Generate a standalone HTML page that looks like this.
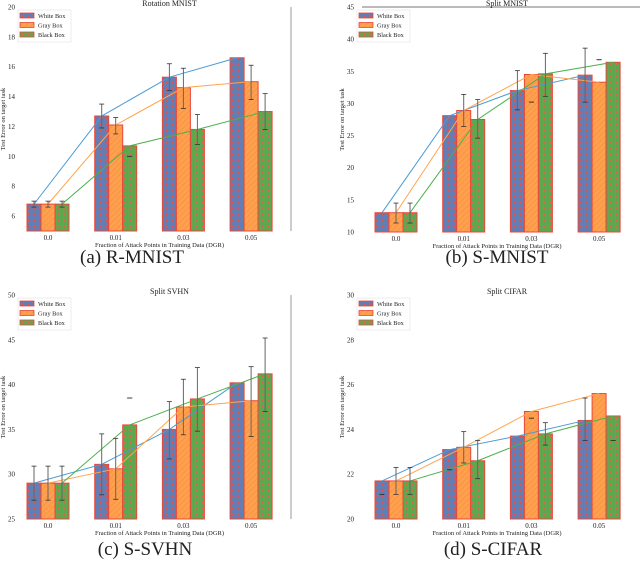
<!DOCTYPE html>
<html><head><meta charset="utf-8">
<style>
html,body{margin:0;padding:0;background:#fff;}
svg text{font-family:"Liberation Serif",serif;fill:#222;}
</style></head>
<body>
<svg id="chart" width="640" height="560" viewBox="0 0 640 560" xmlns="http://www.w3.org/2000/svg">
<defs>
<pattern id="pW" width="3" height="3" patternUnits="userSpaceOnUse"><rect width="3" height="3" fill="#5f7fb8"/><circle cx="1.5" cy="1.5" r="0.7" fill="#d9534f"/></pattern>
<pattern id="pG" width="4" height="4" patternUnits="userSpaceOnUse" patternTransform="rotate(45)"><rect width="4" height="4" fill="#ffa04f"/><line x1="0" y1="0" x2="0" y2="4" stroke="#f08a3a" stroke-width="1"/></pattern>
<pattern id="pB" width="3" height="3" patternUnits="userSpaceOnUse"><rect width="3" height="3" fill="#5ea84e"/><circle cx="1.5" cy="1.5" r="0.6" fill="#d9634f"/></pattern>
</defs>
</svg>
<script>
const categories = ["0.0","0.01","0.03","0.05"];
const seriesNames = ["White Box","Gray Box","Black Box"];
// Panel a: Rotation MNIST
const aWhite = [6.8,12.7,15.3,16.6];
const aGray = [6.8,12.1,14.6,15.0];
const aBlack = [6.8,10.7,11.8,13.0];
const aErrWhite = [[6.6,7.0],[11.9,13.5],[14.4,16.2],null];
const aErrGray = [[6.6,7.0],[11.5,12.6],[13.2,15.9],[13.8,16.1]];
const aErrBlack = [[6.6,7.0],[10,10],[10.8,12.8],[11.8,14.2]];
const aTicks = [6,8,10,12,14,16,18,20];
// Panel b: Split MNIST
const bWhite = [13,28.1,32,34.4];
const bGray = [13,28.9,34.5,33.3];
const bBlack = [13,27.5,34.6,36.4];
const bErrWhite = [null,null,[29,35.1],[30.2,38.6]];
const bErrGray = [[11.4,14.5],[26.4,31.4],[30.2,30.2],[36.8,36.8]];
const bErrBlack = [[11.4,14.5],[24.6,30.6],[31.1,37.8],null];
const bTicks = [10,15,20,25,30,35,40,45];
// Panel c: Split SVHN
const cWhite = [29,31.1,35,40.2];
const cGray = [29,30.6,37.5,38.2];
const cBlack = [29,35.5,38.4,41.2];
const cErrWhite = [[27.1,30.9],[27.7,34.5],[31.7,38.1],null];
const cErrGray = [[27.1,30.9],[27.2,34],[34.4,40.6],[34.2,42]];
const cErrBlack = [[27.1,30.9],[38.5,38.5],[34.8,41.9],[37,45.2]];
const cTicks = [25,30,35,40,45,50];
// Panel d: Split CIFAR
const dWhite = [21.7,23.1,23.7,24.4];
const dGray = [21.7,23.2,24.8,25.6];
const dBlack = [21.7,22.6,23.8,24.6];
const dErrWhite = [[21.1,21.1],[22.2,22.2],null,[23.5,25.4]];
const dErrGray = [[21.1,22.3],[22.5,23.9],[24.5,24.5],null];
const dErrBlack = [[21.1,22.3],[21.8,23.5],[23.3,24.3],[23.5,23.5]];
const dTicks = [20,22,24,26,28,30];

const NS="http://www.w3.org/2000/svg";
const svg=document.getElementById('chart');
function mk(tag,attrs,parent){const e=document.createElementNS(NS,tag);for(const k in attrs)e.setAttribute(k,attrs[k]);(parent||svg).appendChild(e);return e;}

const fills=["url(#pW)","url(#pG)","url(#pB)"];
const lineCols=["#4a9bd6","#ffa54f","#4cb04c"];

function panel(id,title,caption,x0,x1,yTop,yBot,ymin,ymax,catX,ticks,series,errs,topLine,rightSpine,capY){
  const g=mk('g',{});
  
  
  const ys=v=>yBot-(v-ymin)/(ymax-ymin)*(yBot-yTop);
  const xs=i=>catX[0]+i*(catX[1]);
  const bw=14;
  if(rightSpine){const s=mk('line',{x1:x1,y1:yTop,x2:x1,y2:yBot,stroke:'#999','stroke-width':1},g);}
  if(topLine){const s=mk('line',{x1:x0+5,y1:yTop,x2:640,y2:yTop,stroke:'#777','stroke-width':1},g);}
  const t=mk('text',{x:(x0+x1)/2+15,y:yTop-1,'font-size':8,'text-anchor':'middle'},g);t.textContent=title;
  
  ticks.forEach(v=>{const tl=mk('text',{x:x0-3,y:ys(v)+2.5,'font-size':7,'text-anchor':'end'},g);tl.textContent=v;
    });
  categories.forEach((c,i)=>{const tl=mk('text',{x:xs(i),y:yBot+9,'font-size':7,'text-anchor':'middle'},g);tl.textContent=c;
    });
  const yl=mk('text',{x:0,y:0,'font-size':6.5,'text-anchor':'middle',transform:`translate(${x0-13},${(yTop+yBot)/2}) rotate(-90)`},g);
  yl.textContent='Test Error on target task';
  
  const xl=mk('text',{x:(x0+x1)/2+5,y:yBot+16,'font-size':6.5,'text-anchor':'middle'},g);
  xl.textContent='Fraction of Attack Points in Training Data (DGR)';
  
  series.forEach((vals,s)=>{vals.forEach((v,i)=>{
    const bx=xs(i)-21+s*bw;
    const r=mk('rect',{x:bx,y:ys(v),width:bw,height:yBot-ys(v),fill:fills[s],stroke:'#e8483a','stroke-width':1},g);
    
    
  });});
  series.forEach((vals,s)=>{
    const pts=vals.map((v,i)=>(xs(i)-21+s*bw+bw/2)+','+ys(v)).join(' ');
    const p=mk('polyline',{points:pts,fill:'none',stroke:lineCols[s],'stroke-width':1},g);
    
    
  });
  errs.forEach((arr,s)=>{arr.forEach((e,i)=>{ if(!e)return;
    const cx=xs(i)-21+s*bw+bw/2;
    const eg=mk('g',{},g);
    if(e[0]!==e[1])mk('line',{x1:cx,y1:ys(e[0]),x2:cx,y2:ys(e[1]),stroke:'#666','stroke-width':1},eg);
    mk('line',{x1:cx-2.5,y1:ys(e[0]),x2:cx+2.5,y2:ys(e[0]),stroke:'#333','stroke-width':0.8},eg);
    mk('line',{x1:cx-2.5,y1:ys(e[1]),x2:cx+2.5,y2:ys(e[1]),stroke:'#333','stroke-width':0.8},eg);
  });});
  const lg=mk('g',{},g);
  mk('rect',{x:x0,y:yTop+3,width:53,height:32,fill:'#fff',stroke:'#ddd','stroke-width':0.5},lg);
  seriesNames.forEach((n,s)=>{
    const eg=mk('g',{},lg);
    mk('rect',{x:x0+2,y:yTop+6+s*9.5,width:14,height:5,fill:fills[s],stroke:'#e8483a','stroke-width':0.8},eg);
    const tx=mk('text',{x:x0+20,y:yTop+11+s*9.5,'font-size':6.3},eg);tx.textContent=n;
  });
  const cp=mk('text',{x:capX(id),y:capY,'font-size':19,'text-anchor':'middle'},g);cp.textContent=caption;
  
}
function capX(id){return {a:132,b:497,c:145,d:493}[id];}
panel('a','Rotation MNIST','(a) R-MNIST',18,291,7,231,5,20,[48,67.7],aTicks,[aWhite,aGray,aBlack],[aErrWhite,aErrGray,aErrBlack],false,true,263);
panel('b','Split MNIST','(b) S-MNIST',357,627,7,232,10,45,[396,67.7],bTicks,[bWhite,bGray,bBlack],[bErrWhite,bErrGray,bErrBlack],true,false,263);
panel('c','Split SVHN','(c) S-SVHN',18,291,295,519,25,50,[48,67.7],cTicks,[cWhite,cGray,cBlack],[cErrWhite,cErrGray,cErrBlack],false,true,555);
panel('d','Split CIFAR','(d) S-CIFAR',357,627,295,519,20,30,[396,67.7],dTicks,[dWhite,dGray,dBlack],[dErrWhite,dErrGray,dErrBlack],false,false,555);
</script>
</body></html>
